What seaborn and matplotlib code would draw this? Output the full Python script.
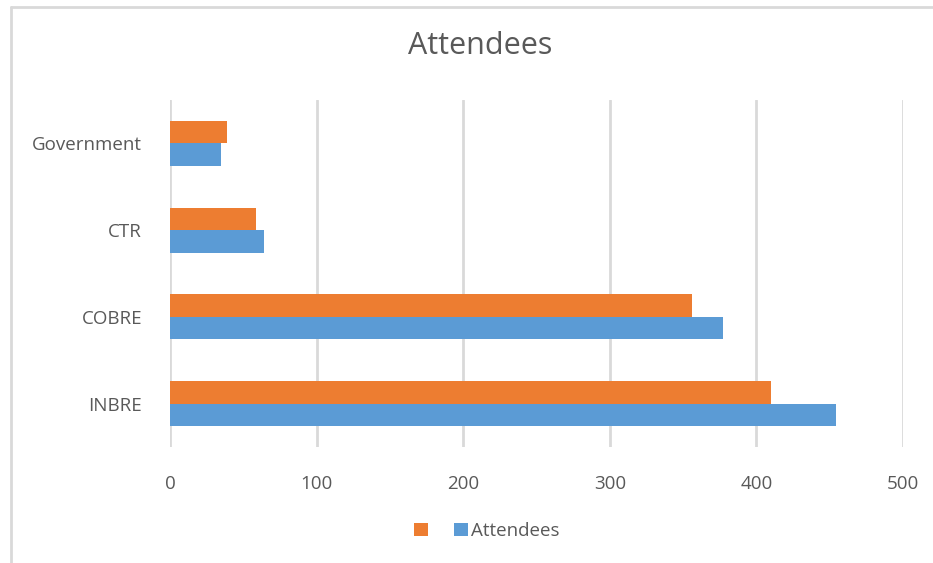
import matplotlib
matplotlib.use("Agg")
import matplotlib.pyplot as plt
from matplotlib.lines import Line2D
from matplotlib.patches import Patch
import seaborn as sns
import pandas as pd

categories = ["Government", "CTR", "COBRE", "INBRE"]
series_names = [" ", "Attendees"]
orange_values = [39, 59, 356, 410]
blue_values = [35, 64, 377, 454]
x_ticks = [0, 100, 200, 300, 400, 500]

df = pd.DataFrame({
    "category": categories * 2,
    "series": [series_names[0]] * 4 + [series_names[1]] * 4,
    "value": orange_values + blue_values,
})

sns.set_theme(style="white")
plt.rcParams["font.family"] = ["Open Sans", "DejaVu Sans"]

fig = plt.figure(figsize=(9.33, 5.63), dpi=100)
ax = fig.add_axes([170 / 933, 1 - 447 / 563, (903 - 170) / 933, (447 - 100) / 563])

palette = {series_names[0]: "#ED7D31", series_names[1]: "#5B9BD5"}
sns.barplot(data=df, y="category", x="value", hue="series", order=categories,
            hue_order=series_names, palette=palette, orient="h", width=0.52,
            saturation=1, linewidth=0, ax=ax, legend=False)

ax.set_xlim(0, 500)
ax.set_xticks(x_ticks)
ax.set_xticklabels([str(t) for t in x_ticks])
ax.set_ylim(3.5, -0.5)
ax.set_xlabel("")
ax.set_ylabel("")
for s in ax.spines.values():
    s.set_visible(False)
ax.grid(axis="x", color="#d9d9d9", linewidth=2)
ax.set_axisbelow(True)
ax.tick_params(axis="both", length=0, colors="#595959", labelsize=13.5)
ax.tick_params(axis="x", pad=20)
ax.tick_params(axis="y", pad=20)

fig.text(0.515, 1 - 46 / 563, "Attendees", ha="center", va="center",
         fontsize=22, color="#595959")

handles = [Patch(facecolor=palette[n], edgecolor="none") for n in series_names]
leg = fig.legend(handles, series_names, loc="center", bbox_to_anchor=(0.522, 1 - 531 / 563),
                 ncol=2, frameon=False, fontsize=13.5, handlelength=0.75, handleheight=0.75,
                 handletextpad=0.2, columnspacing=0.9)
for t in leg.get_texts():
    t.set_color("#595959")

# chart border (top and left edges visible)
fig.add_artist(Line2D([11 / 933, 11 / 933], [0, 1 - 7 / 563], transform=fig.transFigure,
                      color="#d9d9d9", linewidth=2))
fig.add_artist(Line2D([11 / 933, 1], [1 - 7 / 563, 1 - 7 / 563], transform=fig.transFigure,
                      color="#d9d9d9", linewidth=2))

fig.savefig("out.png", dpi=100, facecolor="white")
